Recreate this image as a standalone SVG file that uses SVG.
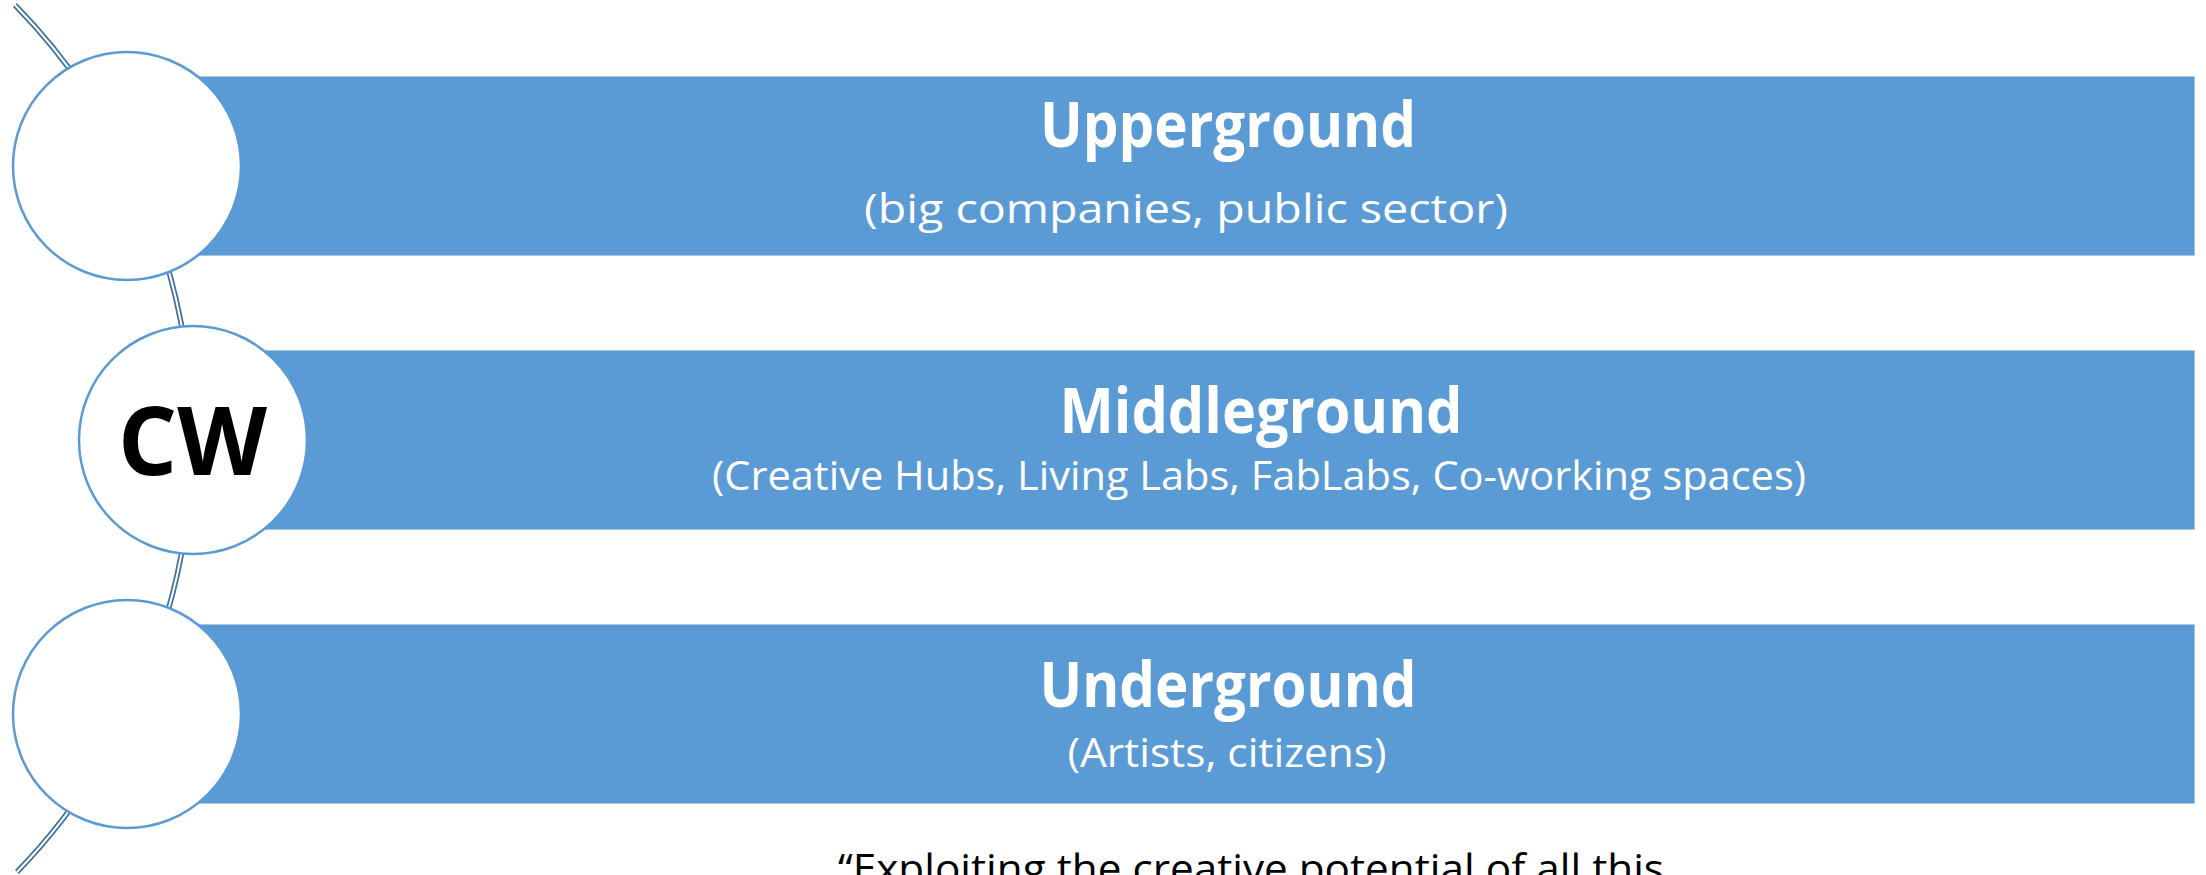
<svg xmlns="http://www.w3.org/2000/svg" width="2206" height="875" viewBox="0 0 2206 875">
  <style>
    .bar { fill: #5B9BD5; stroke: #FFFFFF; stroke-width: 1.5; stroke-opacity: 0.6; }
    .circ { fill: #FFFFFF; stroke: #5B9BD5; stroke-width: 2.5; }
    .title { font-family: "Open Sans", "Liberation Sans", sans-serif; font-weight: bold; fill: #FFFFFF; font-size: 62px; }
    .sub { font-family: "Open Sans", "Liberation Sans", sans-serif; fill: #FFFFFF; font-size: 40px; }
    .cw { font-family: "Open Sans", "Liberation Sans", sans-serif; font-weight: bold; fill: #000000; font-size: 95px; }
    .quote { font-family: "Open Sans", "Liberation Sans", sans-serif; fill: #000000; font-size: 41px; }
    .arcOuter { fill: none; stroke: #41719C; stroke-width: 5.5; }
    .arcInner { fill: none; stroke: #FFFFFF; stroke-width: 2; }
  </style>
  <rect width="2206" height="875" fill="#FFFFFF"/>
  <g id="connectors">
    <path class="arcOuter" d="M 15 5 A 622 622 0 0 1 17 872"/>
    <path class="arcInner" d="M 15 5 A 622 622 0 0 1 17 872"/>
  </g>
  <g id="node-upperground">
    <rect class="bar" x="150" y="76" width="2045" height="180"/>
    <circle class="circ" cx="127" cy="166" r="114"/>
    <text class="title" x="1228" y="147" text-anchor="middle" textLength="376" lengthAdjust="spacingAndGlyphs">Upperground</text>
    <text class="sub" x="1186" y="223" text-anchor="middle" textLength="644" lengthAdjust="spacingAndGlyphs">(big companies, public sector)</text>
  </g>
  <g id="node-middleground">
    <rect class="bar" x="160" y="350" width="2035" height="180"/>
    <circle class="circ" cx="193" cy="440" r="114"/>
    <text class="cw" x="192.5" y="475" text-anchor="middle" textLength="149" lengthAdjust="spacingAndGlyphs">CW</text>
    <text class="title" x="1261" y="433" text-anchor="middle" textLength="403" lengthAdjust="spacingAndGlyphs">Middleground</text>
    <text class="sub" x="1259" y="490" text-anchor="middle" textLength="1094" lengthAdjust="spacingAndGlyphs">(Creative Hubs, Living Labs, FabLabs, Co-working spaces)</text>
  </g>
  <g id="node-underground">
    <rect class="bar" x="150" y="624" width="2045" height="180"/>
    <circle class="circ" cx="127" cy="714" r="114"/>
    <text class="title" x="1228" y="707" text-anchor="middle" textLength="377" lengthAdjust="spacingAndGlyphs">Underground</text>
    <text class="sub" x="1227" y="767" text-anchor="middle" textLength="319" lengthAdjust="spacingAndGlyphs">(Artists, citizens)</text>
  </g>
  <g id="caption">
    <text class="quote" x="838" y="883" textLength="826" lengthAdjust="spacingAndGlyphs">“Exploiting the creative potential of all this</text>
  </g>
</svg>
